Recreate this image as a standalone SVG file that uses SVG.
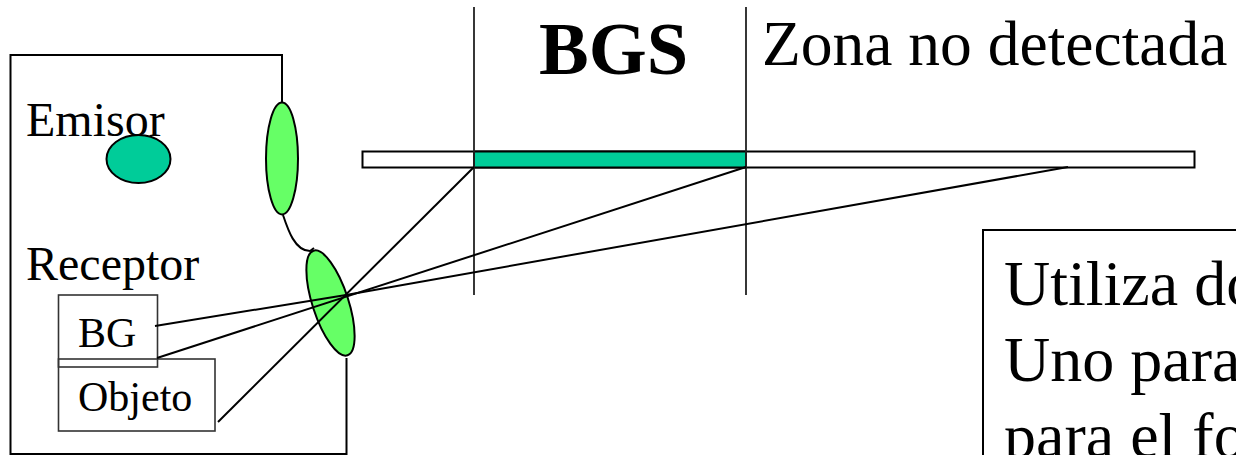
<svg xmlns="http://www.w3.org/2000/svg" width="1236" height="455" viewBox="0 0 1236 455">
<style>
.l{fill:none;stroke:#000;stroke-width:2}
.g{fill:#66ff66;stroke:#000;stroke-width:2}
.t{fill:#00cc99;stroke:#000;stroke-width:2}
.b{fill:none;stroke:#333;stroke-width:1.600}
text{font-family:"Liberation Serif","Times New Roman",serif;fill:#000}
</style>
<rect width="1236" height="455" fill="#fff"/>
<g id="housing"><path class="l" d="M282 102V55H10.500V454H346.500V358"/></g>
<g id="screen"><rect x="362.500" y="151.500" width="832" height="16" fill="#fff" stroke="#000" stroke-width="2"/></g>
<g id="bgs-zone"><rect x="474" y="151.500" width="272" height="16" fill="#00cc99" stroke="#000" stroke-width="2"/></g>
<g id="guides"><path d="M474 7V295M746 7V295" fill="none" stroke="#222" stroke-width="1.800"/></g>
<g id="emisor"><text x="26" y="136" font-size="48">Emisor</text><ellipse class="t" cx="138.500" cy="159" rx="32" ry="24"/></g>
<g id="lens-top"><ellipse class="g" cx="282" cy="158.500" rx="16" ry="56"/></g>
<g id="lens-bottom"><ellipse class="g" cx="330.500" cy="303" rx="18" ry="55" transform="rotate(-18 330.500 303)"/></g>
<g id="receptor-label"><text x="26" y="280" font-size="48">Receptor</text></g>
<g id="bg"><rect class="b" x="58.500" y="295" width="99" height="72"/><text x="78" y="347" font-size="42">BG</text></g>
<g id="objeto"><rect class="b" x="58.500" y="359" width="156.500" height="72"/><text x="78" y="411" font-size="42">Objeto</text></g>
<g id="connectors">
<path class="l" d="M283 215C288 230 295 251 310 251L314 248"/>
<path class="l" d="M155 326L346 295L1068 167"/>
<path class="l" d="M157 358L746 167"/>
<path class="l" d="M218 422L474 167"/>
</g>
<g id="bgs-label"><text x="539" y="74" font-size="74.500" font-weight="bold">BGS</text></g>
<g id="zona-label"><text x="762" y="65" font-size="63.500">Zona no detectada</text></g>
<g id="note"><rect x="983" y="230" width="270" height="240" fill="#fff" stroke="#000" stroke-width="2"/>
<text x="1004" y="305" font-size="64">Utiliza do</text>
<text x="1004" y="381" font-size="64">Uno para</text>
<text x="1004" y="457" font-size="64">para el fo</text></g>
</svg>
